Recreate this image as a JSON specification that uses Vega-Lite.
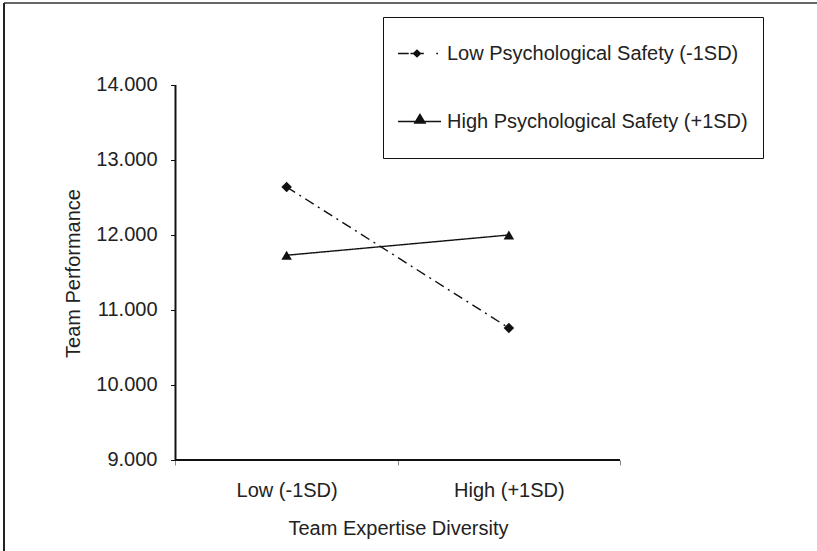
{
  "$schema": "https://vega.github.io/schema/vega-lite/v6.json",
  "autosize": {"type": "none"},
  "padding": {"left": 4, "top": 3, "right": 0, "bottom": 0},
  "width": 813,
  "height": 548,
  "background": "white",
  "config": {
    "view": {"stroke": null},
    "font": "Liberation Sans",
    "axis": {"grid": false, "labelFont": "Liberation Sans", "titleFont": "Liberation Sans", "labelFontSize": 20, "titleFontSize": 20, "titleFontWeight": "normal", "labelColor": "#222", "titleColor": "#222"}
  },
  "data": {
    "values": [
      {"expertise_diversity": -1, "psychological_safety": "Low Psychological Safety (-1SD)", "team_performance": 12.64},
      {"expertise_diversity": 1, "psychological_safety": "Low Psychological Safety (-1SD)", "team_performance": 10.76},
      {"expertise_diversity": -1, "psychological_safety": "High Psychological Safety (+1SD)", "team_performance": 11.73},
      {"expertise_diversity": 1, "psychological_safety": "High Psychological Safety (+1SD)", "team_performance": 12.0}
    ]
  },
  "encoding": {
    "x": {
      "field": "expertise_diversity", "type": "quantitative",
      "scale": {"domain": [-3.5433, 3.7728], "nice": false, "zero": false},
      "axis": {
        "title": "Team Expertise Diversity",
        "offset": -91,
        "domain": false,
        "values": [-2, -1, 0, 1, 2],
        "labelExpr": "datum.value == -1 ? 'Low (-1SD)' : datum.value == 1 ? 'High (+1SD)' : ''",
        "tickSize": 5,
        "tickColor": "#888",
        "tickOpacity": {"condition": {"test": "abs(datum.value) == 1", "value": 0}, "value": 1},
        "labelPadding": 15,
        "labelFlush": false,
        "labelOverlap": false,
        "titleX": 394,
        "titleY": 58.5
      }
    },
    "y": {
      "field": "team_performance", "type": "quantitative",
      "scale": {"domain": [7.7866, 15.0933], "nice": false, "zero": false},
      "axis": {
        "title": "Team Performance",
        "offset": -171.5,
        "domain": false,
        "values": [9, 10, 11, 12, 13, 14],
        "format": ".3f",
        "tickSize": 5,
        "tickColor": "#111",
        "labelPadding": 13.5,
        "titlePadding": 12,
        "titleY": 270
      }
    }
  },
  "layer": [
    {
      "mark": {"type": "rule", "color": "#666", "strokeWidth": 2},
      "encoding": {
        "x": {"datum": -3.5433, "type": "quantitative"},
        "x2": {"datum": 3.7728},
        "y": {"datum": 15.0933, "type": "quantitative"}
      }
    },
    {
      "mark": {"type": "rule", "color": "#222", "strokeWidth": 2},
      "encoding": {
        "x": {"datum": -3.5433, "type": "quantitative"},
        "y": {"datum": 7.7866, "type": "quantitative"},
        "y2": {"datum": 15.0933}
      }
    },
    {
      "mark": {"type": "rule", "color": "#111", "strokeWidth": 1.3},
      "encoding": {
        "x": {"datum": -2, "type": "quantitative"},
        "y": {"datum": 9, "type": "quantitative"},
        "y2": {"datum": 14}
      }
    },
    {
      "mark": {"type": "rule", "color": "#111", "strokeWidth": 1.3},
      "encoding": {
        "x": {"datum": -2, "type": "quantitative"},
        "x2": {"datum": 2},
        "y": {"datum": 9, "type": "quantitative"}
      }
    },
    {
      "mark": {"type": "line", "color": "#111", "strokeWidth": 1.4},
      "encoding": {
        "strokeDash": {
          "field": "psychological_safety", "type": "nominal",
          "scale": {"domain": ["Low Psychological Safety (-1SD)", "High Psychological Safety (+1SD)"], "range": [[10, 5, 2, 5], [1, 0]]},
          "legend": null
        }
      }
    },
    {
      "mark": {"type": "point", "filled": true, "color": "#111", "size": 110, "opacity": 1},
      "encoding": {
        "shape": {
          "field": "psychological_safety", "type": "nominal",
          "scale": {"domain": ["Low Psychological Safety (-1SD)", "High Psychological Safety (+1SD)"], "range": ["diamond", "triangle-up"]},
          "legend": null
        }
      }
    },
    {
      "mark": {"type": "point", "filled": true, "color": "#111", "opacity": 0},
      "encoding": {
        "shape": {
          "field": "psychological_safety", "type": "nominal",
          "scale": {"domain": ["Low Psychological Safety (-1SD)", "High Psychological Safety (+1SD)"], "range": [
            "M0,-1L0.001,-1M0,1L0.001,1M-1,-0.03H-0.5V0.03H-1ZM-0.42,-0.03H0.2V0.03H-0.42ZM-0.326,0L-0.116,-0.2L0.094,0L-0.116,0.2ZM0.78,-0.035H0.86V0.035H0.78Z",
            "M0,-1L0.001,-1M0,1L0.001,1M-1,-0.03H1V0.03H-1ZM-0.28,0.1L0.02,-0.4L0.32,0.1Z"
          ]},
          "legend": {
            "title": null,
            "orient": "none",
            "legendX": 379,
            "legendY": 14,
            "padding": 15,
            "rowPadding": 25,
            "strokeColor": "#111",
            "fillColor": "white",
            "symbolSize": 1849,
            "symbolOpacity": 1,
            "symbolFillColor": "#111",
            "symbolStrokeColor": "#111",
            "symbolStrokeWidth": 0,
            "labelFont": "Liberation Sans",
            "labelFontSize": 20,
            "labelColor": "#222",
            "labelLimit": 500,
            "labelOffset": 6
          }
        }
      }
    }
  ],
  "resolve": {"scale": {"shape": "independent", "strokeDash": "independent"}}
}
